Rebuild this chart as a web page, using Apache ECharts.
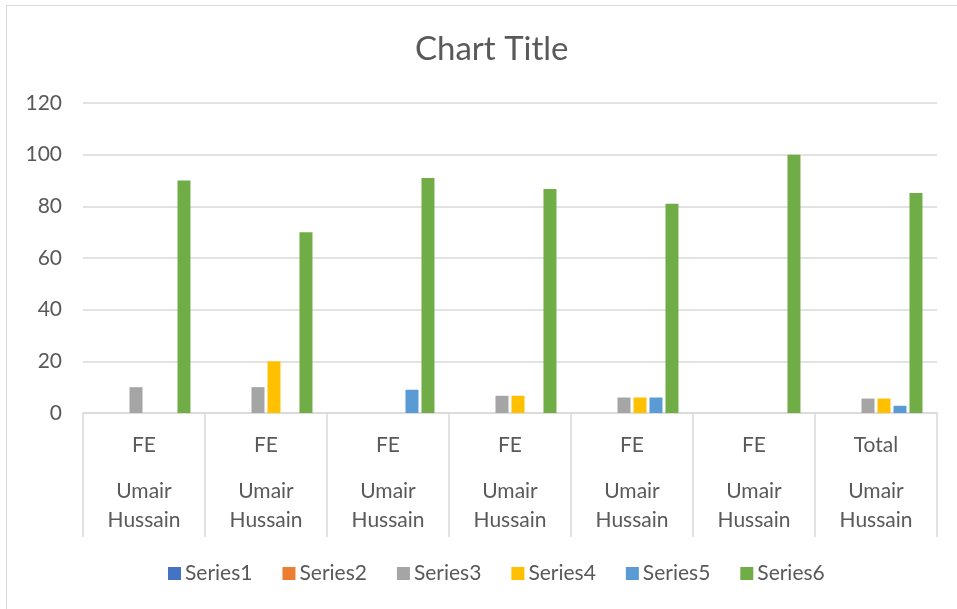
<!DOCTYPE html>
<html>
<head>
<meta charset="utf-8">
<script src="https://cdn.jsdelivr.net/npm/echarts@6/dist/echarts.min.js"></script>
<style>
  html, body { margin: 0; padding: 0; background: #fff; overflow: hidden; }
  #frame { position: absolute; left: 6px; top: 5px; width: 1000px; height: 700px; border: 1px solid #d9d9d9; }
  #chart { position: absolute; left: 0; top: 0; width: 957px; height: 609px; }
</style>
</head>
<body>
<div id="frame"></div>
<div id="chart"></div>
<script>
// categories (two levels)
const outerLabels = ['FE', 'FE', 'FE', 'FE', 'FE', 'FE', 'Total'];
const innerLabel = ['Umair', 'Hussain'];
const yTicks = [0, 20, 40, 60, 80, 100, 120];

// series values
const series1 = [0, 0, 0, 0, 0, 0, 0];
const series2 = [0, 0, 0, 0, 0, 0, 0];
const series3 = [10, 10, 0, 6.67, 6, 0, 5.6];
const series4 = [0, 20, 0, 6.67, 6, 0, 5.6];
const series5 = [0, 0, 9, 0, 6, 0, 2.8];
const series6 = [90, 70, 91, 86.67, 81, 100, 85.2];

const names = ['Series1', 'Series2', 'Series3', 'Series4', 'Series5', 'Series6'];
const colors = ['#4472C4', '#ED7D31', '#A5A5A5', '#FFC000', '#5B9BD5', '#70AD47'];
const values = [series1, series2, series3, series4, series5, series6];

const font = 'Lato, "Open Sans", sans-serif';
const chart = echarts.init(document.getElementById('chart'));

chart.setOption({
    animation: false,
    color: colors,
    title: {
        text: 'Chart Title',
        left: 410,
        top: 28,
        textStyle: { fontFamily: font, fontSize: 33, fontWeight: 'normal', color: '#595959' }
    },
    legend: {
        data: names,
        bottom: 20,
        left: 163,
        itemWidth: 13,
        itemHeight: 13,
        itemGap: 30,
        icon: 'rect',
        textStyle: { fontFamily: font, fontSize: 21, color: '#595959', padding: [0, 0, 0, -1] }
    },
    grid: { left: 83, right: 20, top: 103, bottom: 196 },
    xAxis: {
        type: 'category',
        data: outerLabels,
        axisLine: { lineStyle: { color: '#d9d9d9', width: 1.5 } },
        axisTick: { show: true, length: 124, lineStyle: { color: '#d9d9d9', width: 1.5 } },
        axisLabel: {
            margin: 0,
            fontFamily: font,
            color: '#595959',
            formatter: v => '{a|' + v + '}\n{b|' + innerLabel[0] + '}\n{b|' + innerLabel[1] + '}',
            rich: {
                a: { fontFamily: font, fontSize: 21, color: '#595959', lineHeight: 64 },
                b: { fontFamily: font, fontSize: 21, color: '#595959', lineHeight: 29 }
            }
        }
    },
    yAxis: {
        type: 'value',
        min: yTicks[0],
        max: yTicks[yTicks.length - 1],
        interval: 20,
        axisLine: { show: false },
        axisTick: { show: false },
        axisLabel: { margin: 21, fontFamily: font, fontSize: 21, color: '#595959' },
        splitLine: { lineStyle: { color: '#d9d9d9', width: 1.5 } }
    },
    series: names.map((n, i) => ({
        name: n,
        type: 'bar',
        data: values[i],
        barWidth: 13,
        barGap: '23%',
        itemStyle: { color: colors[i] }
    }))
});
</script>
</body>
</html>
